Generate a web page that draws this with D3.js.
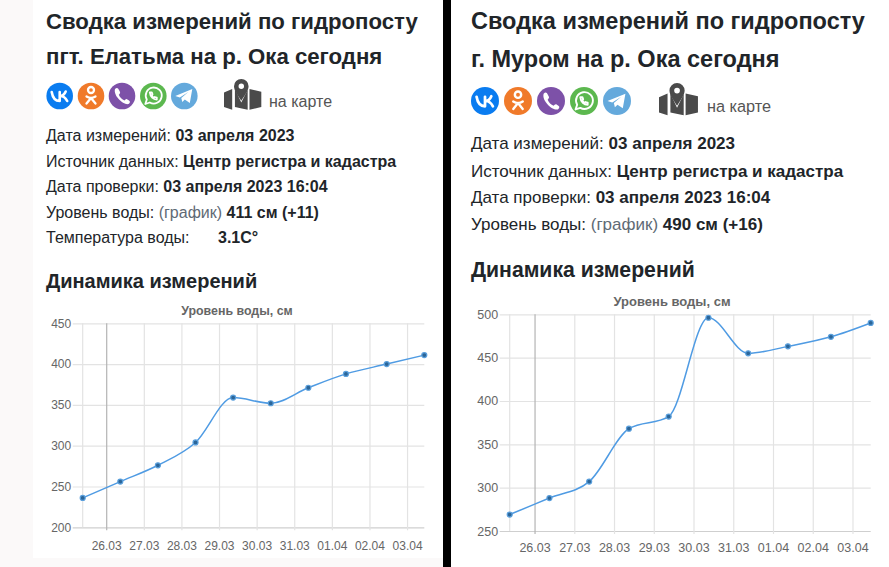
<!DOCTYPE html>
<html>
<head>
<meta charset="utf-8">
<script src="https://cdn.jsdelivr.net/npm/d3@7"></script>
<style>
html, body { margin: 0; padding: 0; background: #fff; }
svg { display: block; font-family: "Liberation Sans", Arial, sans-serif; }
</style>
</head>
<body>
<svg id="page" width="889" height="567"></svg>
<script>
// measurement times, same for both gauges
const times = ['2023-03-25 09', '2023-03-26 09', '2023-03-27 09', '2023-03-28 09', '2023-03-29 09',
  '2023-03-30 09', '2023-03-31 09', '2023-04-01 09', '2023-04-02 11', '2023-04-03 11'];

const elatmaLevels = [236, 256, 276, 304, 359, 352, 371, 388, 400, 411];
const muromLevels = [269, 288, 307, 368, 382, 496, 455, 463, 474, 490];

const elatmaTicks = [200, 250, 300, 350, 400, 450];
const muromTicks = [250, 300, 350, 400, 450, 500];

const elatmaFacts = [
  ['Дата измерений: ', '03 апреля 2023'],
  ['Источник данных: ', 'Центр регистра и кадастра'],
  ['Дата проверки: ', '03 апреля 2023 16:04'],
  ['Уровень воды: ', '(график) ', '411 см (+11)'],
  ['Температура воды: ', '3.1С°'],
];
const muromFacts = [
  ['Дата измерений: ', '03 апреля 2023'],
  ['Источник данных: ', 'Центр регистра и кадастра'],
  ['Дата проверки: ', '03 апреля 2023 16:04'],
  ['Уровень воды: ', '(график) ', '490 см (+16)'],
];

const parseTime = d3.utcParse('%Y-%m-%d %H');
const svg = d3.select('#page');

// backgrounds
svg.append('rect').attr('width', 443).attr('height', 567).attr('fill', '#fbf9f9');
svg.append('rect').attr('x', 33).attr('width', 410).attr('height', 558).attr('fill', '#fff');
svg.append('rect').attr('x', 443).attr('width', 8).attr('height', 567).attr('fill', '#000');

// social icons: colour + white glyph, drawn in a 26x26 box around the centre
const socials = [
  { color: '#0a7cf0', fill: 'none', stroke: '#fff', width: 2.6, d: 'M-8,-4C-7,2 -4,5 0,5L0,-4M0,0C3,0 5,-2 6,-4.5M0.5,0C3.5,0 6,2 7.5,5' },
  { color: '#f07a2a', fill: 'none', stroke: '#fff', width: 2.3, d: 'M-3,-6a3,3 0 1,0 6,0a3,3 0 1,0 -6,0M-4.5,0.5C-2,2.2 2,2.2 4.5,0.5M0,2L-4.5,7.5M0,2L4.5,7.5' },
  { color: '#7d51a8', fill: '#fff', stroke: 'none', width: 0, d: 'M-7,-7C-5,-9 -4,-8 -3,-6L-2,-4C-1.5,-3 -2.5,-2 -3.2,-1.2C-2,1.5 0,3.5 2.5,4.5C3.3,3.8 4,2.8 5,3.2L7,4.5C8.5,5.5 8,7 6.5,8C2,9.5 -9,0 -7,-7Z' },
  { color: '#5cb84f', fill: 'none', stroke: '#fff', width: 1.8, d: 'M-8,8L-6.5,3.5A8,8 0 1,1 -3.5,6.5ZM-3.5,-3.5C-3,1 0,3.5 3.5,3.5L3.5,1.5L1.5,1L0.5,1.8C-0.5,1.2 -1,0.5 -1.6,-0.6L-0.8,-1.6L-1.5,-3.7Z' },
  { color: '#64a9dc', fill: '#fff', stroke: 'none', width: 0, d: 'M-9,0L8,-7L5.5,7L0.5,3.5L-2,6L-3,2L4,-4L-4.5,1.5Z' },
];

const mapFold = 'M0,16L9,12L9,35L0,32ZM12,12L19,27L26,13L26,35L12,32ZM28,12L41,15L41,32L28,35Z';
const mapPin = 'M19,1A8,8 0 0,1 27,9C27,14 22,20 19,25C16,20 11,14 11,9A8,8 0 0,1 19,1ZM19,6A3,3 0 1,0 19,12A3,3 0 1,0 19,6Z';

function drawText(cfg) {
  const g = svg.append('g').attr('fill', '#212529');
  cfg.title.forEach((line, i) => {
    g.append('text').attr('x', cfg.textX).attr('y', cfg.titleY[i])
      .attr('font-size', cfg.titleSize).attr('font-weight', 700).text(line);
  });

  cfg.facts.forEach((row, i) => {
    const t = g.append('text').attr('x', cfg.textX).attr('y', cfg.factY[i]).attr('font-size', cfg.factSize);
    row.forEach((part, j) => {
      const span = t.append('tspan').text(part);
      if (j === row.length - 1) span.attr('font-weight', 700);
      else if (j === 1) span.attr('fill', '#5f6a75');
    });
  });
  if (cfg.tempX) {
    // the temperature value sits in its own column
    g.selectAll('tspan').filter(function () { return this.textContent === '3.1С°'; }).attr('x', cfg.tempX);
  }

  g.append('text').attr('x', cfg.textX).attr('y', cfg.headY)
    .attr('font-size', cfg.headSize).attr('font-weight', 700).text('Динамика измерений');

  const icons = svg.append('g').selectAll('g').data(socials).enter().append('g')
    .attr('transform', (d, i) => `translate(${cfg.iconX[i]},${cfg.iconY}) scale(${cfg.iconR / 13.3})`);
  icons.append('circle').attr('r', 13.3).attr('fill', d => d.color);
  icons.append('path').attr('d', d => d.d).attr('fill', d => d.fill)
    .attr('stroke', d => d.stroke).attr('stroke-width', d => d.width)
    .attr('stroke-linecap', 'round').attr('stroke-linejoin', 'round');

  const map = svg.append('g').attr('fill', '#4a4a4a')
    .attr('transform', `translate(${cfg.mapX},${cfg.mapY}) scale(${cfg.mapScale})`);
  map.append('path').attr('d', mapFold);
  map.append('path').attr('d', mapPin).attr('fill-rule', 'evenodd');
  svg.append('text').attr('x', cfg.mapTextX).attr('y', cfg.mapTextY)
    .attr('font-size', cfg.mapTextSize).attr('fill', '#555').text('на карте');
}

function drawChart(cfg) {
  const parsed = times.map(parseTime);
  const x = d3.scaleUtc().domain(d3.extent(parsed)).range([cfg.left, cfg.right]);
  const y = d3.scaleLinear().domain(d3.extent(cfg.yTicks)).range([cfg.bottom, cfg.top]);
  const h = cfg.bottom - cfg.top;

  const g = svg.append('g');

  g.append('text').attr('x', cfg.chartTitleX).attr('y', cfg.chartTitleY).attr('text-anchor', 'middle')
    .attr('font-size', cfg.chartTitleSize).attr('font-weight', 700).attr('fill', '#666').text('Уровень воды, см');

  const yAxis = g.append('g').attr('transform', `translate(${cfg.right},0)`)
    .call(d3.axisLeft(y).tickValues(cfg.yTicks).tickSize(cfg.right - cfg.left + 10).tickPadding(1.5));
  const xAxis = g.append('g').attr('transform', `translate(0,${cfg.top})`)
    .call(d3.axisBottom(x).ticks(d3.utcDay.every(1)).tickFormat(d3.utcFormat('%d.%m'))
      .tickSize(h + 3).tickPadding(cfg.xPad));

  [yAxis, xAxis].forEach(a => {
    a.select('.domain').remove();
    a.selectAll('line').attr('stroke', '#e3e3e3').attr('stroke-width', 1.2);
    a.selectAll('text').attr('fill', '#666').attr('font-size', cfg.tickSize)
      .attr('font-family', '"Liberation Sans", Arial, sans-serif');
  });
  xAxis.select('.tick line').attr('stroke', '#b4b4b4');
  yAxis.select('.tick line').attr('stroke', '#cfcfcf');

  // light line on the left edge of the plot
  g.append('line').attr('x1', x(parsed[0])).attr('x2', x(parsed[0]))
    .attr('y1', y.range()[1]).attr('y2', y.range()[0]).attr('stroke', '#e3e3e3').attr('stroke-width', 1.2);

  const line = d3.line().x((d, i) => x(parsed[i])).y(d => y(d)).curve(d3.curveMonotoneX);
  g.append('path').attr('d', line(cfg.levels)).attr('fill', 'none')
    .attr('stroke', '#4f9be3').attr('stroke-width', 1.5);

  g.selectAll('circle.pt').data(cfg.levels).enter().append('circle').attr('class', 'pt')
    .attr('cx', (d, i) => x(parsed[i])).attr('cy', d => y(d)).attr('r', 2.5)
    .attr('fill', '#2b6598').attr('stroke', '#5a9fdc').attr('stroke-width', 1.2);
}

const left = {
  title: ['Сводка измерений по гидропосту', 'пгт. Елатьма на р. Ока сегодня'],
  textX: 46, titleY: [29, 64], titleSize: 22.2,
  facts: elatmaFacts, factY: [141, 167, 192, 218, 243], factSize: 16, tempX: 218,
  headY: 288, headSize: 20,
  iconX: [59.7, 91, 122, 153.3, 184.3], iconY: 96, iconR: 13.3,
  mapX: 224, mapY: 78, mapScale: 0.91, mapTextX: 269, mapTextY: 107, mapTextSize: 16,
  levels: elatmaLevels, yTicks: elatmaTicks,
  left: 82.7, right: 424.3, top: 323.3, bottom: 527.3,
  chartTitleX: 237, chartTitleY: 315, xPad: 11.5, tickSize: 12, chartTitleSize: 12.4,
};
const right = {
  title: ['Сводка измерений по гидропосту', 'г. Муром на р. Ока сегодня'],
  textX: 471, titleY: [29, 67], titleSize: 23.5,
  facts: muromFacts, factY: [149, 177, 203, 230], factSize: 17,
  headY: 277, headSize: 21.2,
  iconX: [485, 518, 551, 584, 617], iconY: 101, iconR: 14,
  mapX: 659, mapY: 82, mapScale: 0.95, mapTextX: 707, mapTextY: 112, mapTextSize: 16.3,
  levels: muromLevels, yTicks: muromTicks,
  left: 509.7, right: 870.7, top: 314.3, bottom: 531,
  chartTitleX: 672, chartTitleY: 306, xPad: 9, tickSize: 12.5, chartTitleSize: 13,
};

drawText(left);
drawChart(left);
drawText(right);
drawChart(right);
</script>
</body>
</html>
